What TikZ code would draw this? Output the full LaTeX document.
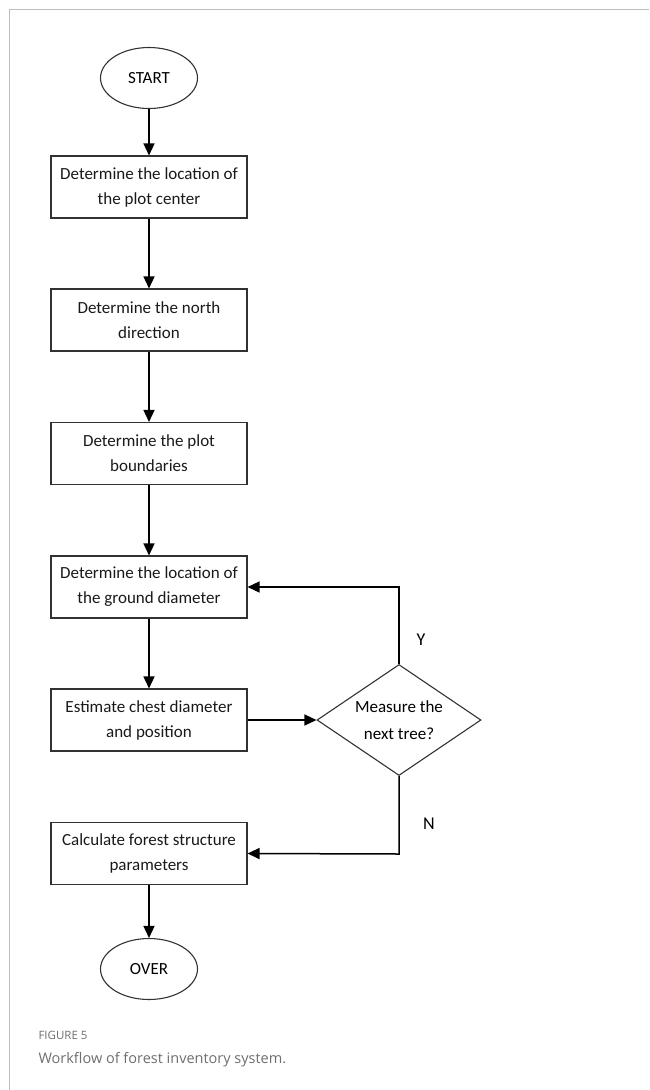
\documentclass[tikz,border=0pt]{standalone}
\usepackage{fontspec}
\setmainfont{Carlito}
\newfontfamily\capfont{Open Sans}
\usetikzlibrary{arrows.meta,shapes.geometric}
\definecolor{framegray}{RGB}{190,190,190}
\definecolor{capgray}{RGB}{110,110,110}
\definecolor{boxline}{RGB}{50,50,50}
\tikzset{
  stepbox/.style={draw=boxline,line width=1.1pt,minimum width=196pt,minimum height=62pt,inner sep=0pt,align=center,font=\fontsize{17}{25}\selectfont,text=black!90},
  termnode/.style={draw=boxline,line width=1.1pt,ellipse,minimum width=97pt,minimum height=61pt,inner sep=0pt,font=\fontsize{17}{25}\selectfont},
  decision/.style={draw=boxline,line width=1.1pt,diamond,minimum width=164pt,minimum height=111pt,inner sep=0pt,aspect=1.48,align=center,font=\fontsize{17}{27}\selectfont},
  flow/.style={line width=1.5pt,-{Triangle[length=12pt,width=11pt]}},
  lbl/.style={font=\fontsize{18}{20}\selectfont}
}
\begin{document}
\begin{tikzpicture}[x=1pt,y=-1pt]
\useasboundingbox (0,0) rectangle (649,1090);
\draw[framegray,line width=1pt] (649,9.5) -- (9.5,9.5) -- (9.5,1090);
\node[termnode] (start) at (149,78) {START};
\node[stepbox] (b1) at (149,187) {Determine the location of\\the plot center};
\node[stepbox] (b2) at (149,320) {Determine the north\\direction};
\node[stepbox] (b3) at (149,453.5) {Determine the plot\\boundaries};
\node[stepbox] (b4) at (149,587) {Determine the location of\\the ground diameter};
\node[stepbox] (b5) at (149,720) {Estimate chest diameter\\and position};
\node[decision] (d) at (399,720) {Measure the\\next tree?};
\node[stepbox] (b6) at (149,853.5) {Calculate forest structure\\parameters};
\node[termnode] (over) at (149,969) {OVER};
\coordinate (ytop) at (399,587);
\coordinate (nbot) at (399,854);
\draw[flow] (start) -- (b1);
\draw[flow] (b1) -- (b2);
\draw[flow] (b2) -- (b3);
\draw[flow] (b3) -- (b4);
\draw[flow] (b4) -- (b5);
\draw[flow] (b5) -- (d);
\draw[flow] (b6) -- (over);
\draw[flow] (d.north) -- (ytop) -- (b4.east);
\draw[flow] (d.south) -- (nbot) -- (b6.east);
\node[lbl] (ylab) at (421,640) {Y};
\node[lbl] (nlab) at (429,824) {N};
\node[anchor=base west,text=capgray,font=\capfont\fontsize{11.5}{13}\selectfont] (fig) at (35,1039) {FIGURE 5};
\node[anchor=base west,text=capgray,font=\capfont\fontsize{14.5}{17}\selectfont] (cap) at (35,1063) {Workflow of forest inventory system.};
\end{tikzpicture}
\end{document}
